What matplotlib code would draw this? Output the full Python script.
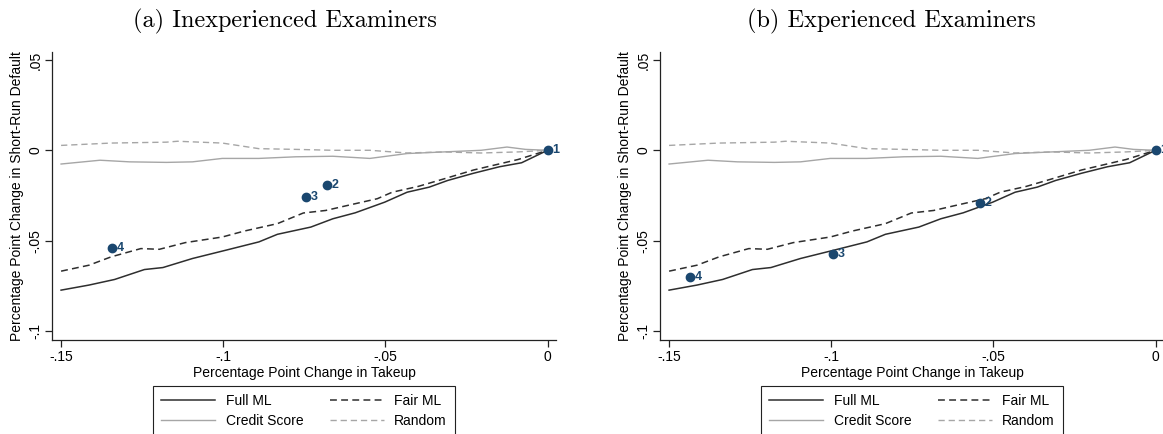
import numpy as np
import matplotlib
matplotlib.use("Agg")
import matplotlib.pyplot as plt

# curves (shared by both panels)
full_ml_x = [-0.15, -0.1414, -0.1335, -0.1243, -0.1186, -0.1095, -0.0992, -0.089, -0.0833, -0.073,
             -0.0662, -0.0593, -0.0502, -0.0433, -0.0365, -0.0308, -0.0228, -0.0148, -0.008, 0.0]
full_ml_y = [-0.0774, -0.0746, -0.0715, -0.066, -0.0649, -0.0599, -0.0553, -0.0507, -0.0465, -0.0425,
             -0.0379, -0.0346, -0.0287, -0.0232, -0.0204, -0.0167, -0.0127, -0.0091, -0.0069, 0.0]

fair_ml_x = [-0.15, -0.1414, -0.1346, -0.1254, -0.1197, -0.1117, -0.1003, -0.0935, -0.0833, -0.0753,
             -0.0684, -0.0616, -0.0525, -0.0479, -0.0399, -0.0319, -0.0228, -0.0091, 0.0]
fair_ml_y = [-0.0669, -0.0636, -0.059, -0.0544, -0.0548, -0.0511, -0.048, -0.0447, -0.0406, -0.0347,
             -0.0333, -0.0305, -0.0268, -0.0232, -0.02, -0.0158, -0.0109, -0.0051, 0.0]

credit_x = [-0.15, -0.138, -0.1289, -0.1175, -0.1095, -0.1003, -0.089, -0.0776, -0.0662, -0.0548,
            -0.0433, -0.0319, -0.0205, -0.0125, -0.0068, 0.0]
credit_y = [-0.0076, -0.0055, -0.0064, -0.0067, -0.0064, -0.0045, -0.0045, -0.0036, -0.0033, -0.0045,
            -0.0018, -0.0009, 0.0, 0.0018, 0.0005, 0.0]

random_x = [-0.15, -0.1346, -0.1175, -0.1141, -0.1003, -0.089, -0.0776, -0.0662, -0.0548, -0.0433,
            -0.0319, -0.0205, -0.0091, 0.0]
random_y = [0.0027, 0.004, 0.0045, 0.005, 0.004, 0.0009, 0.0005, 0.0, 0.0, -0.0015,
            -0.0009, -0.0015, -0.0009, 0.0]

# examiner points
point_labels = ["1", "2", "3", "4"]
inexp_x = [0.0, -0.068, -0.0746, -0.1343]
inexp_y = [0.0, -0.0193, -0.0259, -0.054]
exp_x = [0.0, -0.0542, -0.0994, -0.1435]
exp_y = [0.0, -0.0289, -0.0572, -0.070]

titles = ["(a) Inexperienced Examiners", "(b) Experienced Examiners"]
xticks = [-0.15, -0.1, -0.05, 0.0]
xtick_labels = ["-.15", "-.1", "-.05", "0"]
yticks = [-0.1, -0.05, 0.0, 0.05]
ytick_labels = ["-.1", "-.05", "0", ".05"]

navy = "#1a476f"
dark = "#2e2e2e"
light = "#a6a6a6"
dash = (0, (4.5, 2.8))

plt.rcParams["font.family"] = ["Liberation Sans", "DejaVu Sans"]

W, H = 1163, 434
fig = plt.figure(figsize=(W / 100, H / 100), dpi=100)


def draw_panel(left_px, px, py, title, title_x):
    ax = fig.add_axes([left_px / W, (H - 340) / H, 504 / W, 288 / H])
    h1, = ax.plot(full_ml_x, full_ml_y, color=dark, lw=1.1, label="Full ML")
    h2, = ax.plot(fair_ml_x, fair_ml_y, color=dark, lw=1.1, ls=dash, label="Fair ML")
    h3, = ax.plot(credit_x, credit_y, color=light, lw=1.0, label="Credit Score")
    h4, = ax.plot(random_x, random_y, color=light, lw=1.0, ls=dash, label="Random")
    ax.plot(px, py, "o", color=navy, ms=6, zorder=5)
    for x, y, s in zip(px, py, point_labels):
        ax.annotate(s, (x, y), xytext=(3.5, 0), textcoords="offset points",
                    ha="left", va="center", color=navy, fontsize=9,
                    fontweight="bold", zorder=6)

    ax.set_xlim(-0.1528, 0.0026)
    ax.set_ylim(-0.105, 0.0544)
    ax.spines["top"].set_visible(False)
    ax.spines["right"].set_visible(False)
    for s in ["left", "bottom"]:
        ax.spines[s].set_linewidth(0.9)
        ax.spines[s].set_color("#222222")
    ax.set_xticks(xticks)
    ax.set_xticklabels(xtick_labels, fontsize=10)
    ax.set_yticks(yticks)
    ax.set_yticklabels(ytick_labels, fontsize=10, rotation=90, va="center")
    ax.tick_params(length=5, width=0.9, pad=2, color="#222222")
    ax.set_xlabel("Percentage Point Change in Takeup", fontsize=10, labelpad=2)
    ax.set_ylabel("Percentage Point Change in Short-Run Default", fontsize=10, labelpad=3)

    # column-major fill -> rows: Full ML / Fair ML, Credit Score / Random
    leg = ax.legend([h1, h3, h2, h4], ["Full ML", "Credit Score", "Fair ML", "Random"],
                    loc="upper center", bbox_to_anchor=(0.5, -0.137), ncol=2,
                    fontsize=10, handlelength=3.9, handletextpad=0.75,
                    columnspacing=1.9, labelspacing=0.42, borderpad=0.55,
                    fancybox=False, framealpha=1)
    leg.get_frame().set_edgecolor("#222222")
    leg.get_frame().set_linewidth(0.8)

    fig.text(title_x / W, 1 - 21 / H, title, ha="center", va="center",
             fontsize=17.5, family=["cmr10", "DejaVu Serif"])
    return ax


draw_panel(52, inexp_x, inexp_y, titles[0], 285)
draw_panel(660, exp_x, exp_y, titles[1], 891)

fig.savefig("out.png", dpi=100)
